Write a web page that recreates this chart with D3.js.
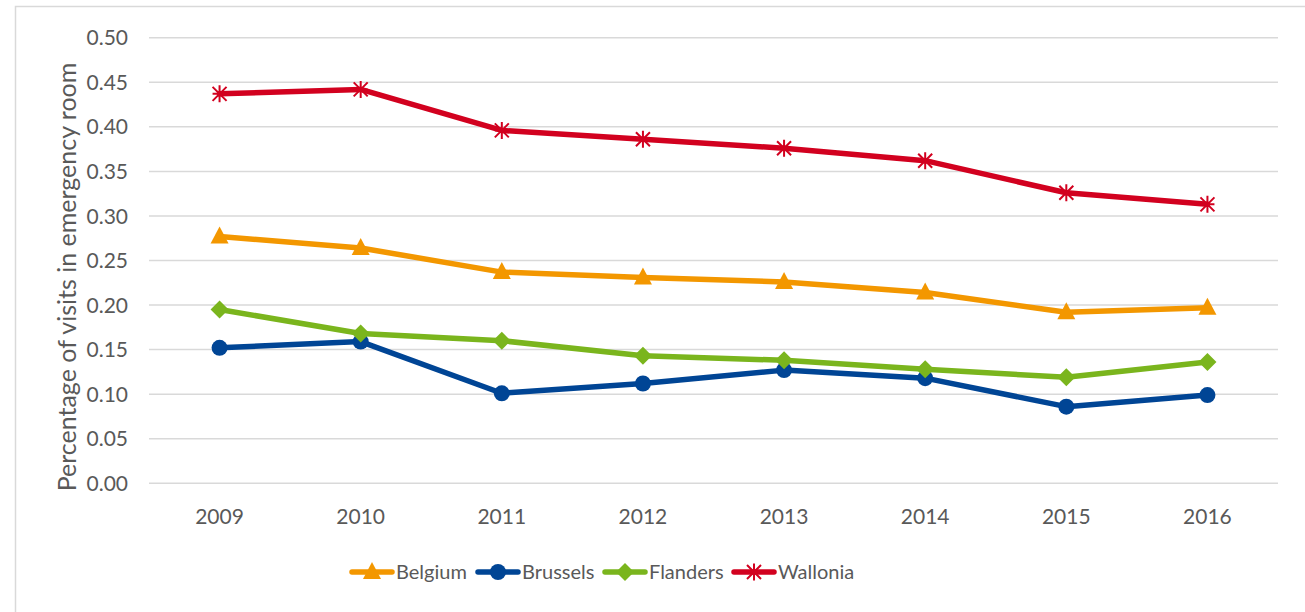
<!DOCTYPE html>
<html>
<head>
<meta charset="utf-8">
<script src="https://cdn.jsdelivr.net/npm/d3@7"></script>
<style>
  body { margin: 0; background: #fff; }
  text { font-family: Lato, "Liberation Sans", Arial, sans-serif; fill: #595959; }
</style>
</head>
<body>
<svg id="chart" width="1305" height="612"></svg>
<script>
const years = ["2009", "2010", "2011", "2012", "2013", "2014", "2015", "2016"];
const belgium = [0.277, 0.264, 0.237, 0.231, 0.226, 0.214, 0.192, 0.197];
const brussels = [0.152, 0.159, 0.101, 0.112, 0.127, 0.118, 0.086, 0.099];
const flanders = [0.195, 0.168, 0.160, 0.143, 0.138, 0.128, 0.119, 0.136];
const wallonia = [0.437, 0.442, 0.396, 0.386, 0.376, 0.362, 0.326, 0.313];
const yTicks = [0, 0.05, 0.1, 0.15, 0.2, 0.25, 0.3, 0.35, 0.4, 0.45, 0.5];

const series = [
    { name: "Belgium", values: belgium, color: "#F39700", marker: "triangle" },
    { name: "Brussels", values: brussels, color: "#004595", marker: "circle" },
    { name: "Flanders", values: flanders, color: "#7AB51D", marker: "diamond" },
    { name: "Wallonia", values: wallonia, color: "#D2011F", marker: "star" }
];

const svg = d3.select("#chart");

// outer chart frame (only left and top visible)
svg.append("path")
    .attr("d", "M15.5,612 V6.5 H1305")
    .attr("fill", "none")
    .attr("stroke", "#d9d9d9")
    .attr("stroke-width", 1.5);

const x = d3.scalePoint().domain(years).range([149, 1278]).padding(0.5);
const y = d3.scaleLinear().domain([0, 0.5]).range([483.3, 37.7]);

// gridlines
svg.append("g")
    .selectAll("line")
    .data(yTicks)
    .join("line")
    .attr("x1", 149).attr("x2", 1278)
    .attr("y1", d => y(d)).attr("y2", d => y(d))
    .attr("stroke", "#d9d9d9")
    .attr("stroke-width", 1.5);

// y tick labels
svg.append("g")
    .selectAll("text")
    .data(yTicks)
    .join("text")
    .attr("x", 128)
    .attr("y", d => y(d))
    .attr("dy", "0.36em")
    .attr("text-anchor", "end")
    .style("font-size", "21px")
    .text(d => d.toFixed(2));

// x tick labels
svg.append("g")
    .selectAll("text")
    .data(years)
    .join("text")
    .attr("x", d => x(d))
    .attr("y", 524)
    .attr("text-anchor", "middle")
    .style("font-size", "21px")
    .text(d => d);

// y axis title
svg.append("text")
    .attr("transform", "translate(76,277) rotate(-90)")
    .attr("text-anchor", "middle")
    .style("font-size", "25px")
    .text("Percentage of visits in emergency room");

function drawMarker(g, type, color) {
    if (type === "triangle") {
        g.append("path").attr("d", "M0,-10 L9,7 L-9,7 Z").attr("fill", color);
    } else if (type === "circle") {
        g.append("circle").attr("r", 8).attr("fill", color);
    } else if (type === "diamond") {
        g.append("path").attr("d", "M0,-9 L9,0 L0,9 L-9,0 Z").attr("fill", color);
    } else {
        const s = 7;
        g.append("path")
            .attr("d", `M${-s},${-s} L${s},${s} M${-s},${s} L${s},${-s} M0,${-s - 1.5} L0,${s + 1.5} M${-s},0 L${s},0`)
            .attr("stroke", color)
            .attr("stroke-width", 2)
            .attr("fill", "none");
    }
}

const line = d3.line()
    .x((d, i) => x(years[i]))
    .y(d => y(d));

series.forEach(s => {
    svg.append("path")
        .datum(s.values)
        .attr("d", line)
        .attr("fill", "none")
        .attr("stroke", s.color)
        .attr("stroke-width", 5.5)
        .attr("stroke-linejoin", "round")
        .attr("stroke-linecap", "round");

    s.values.forEach((v, i) => {
        const g = svg.append("g").attr("transform", `translate(${x(years[i])},${y(v)})`);
        drawMarker(g, s.marker, s.color);
    });
});

// legend
const legendX = [352, 478, 605, 734];
const legend = svg.append("g")
    .selectAll("g")
    .data(series)
    .join("g")
    .attr("transform", (d, i) => `translate(${legendX[i]},572)`);

legend.append("line")
    .attr("x1", 0).attr("x2", 40)
    .attr("stroke", d => d.color)
    .attr("stroke-width", 5.5)
    .attr("stroke-linecap", "round");

legend.each(function (d) {
    const g = d3.select(this).append("g").attr("transform", "translate(20,0)");
    drawMarker(g, d.marker, d.color);
});

legend.append("text")
    .attr("x", 44)
    .attr("dy", "0.36em")
    .style("font-size", "20px")
    .text(d => d.name);
</script>
</body>
</html>
